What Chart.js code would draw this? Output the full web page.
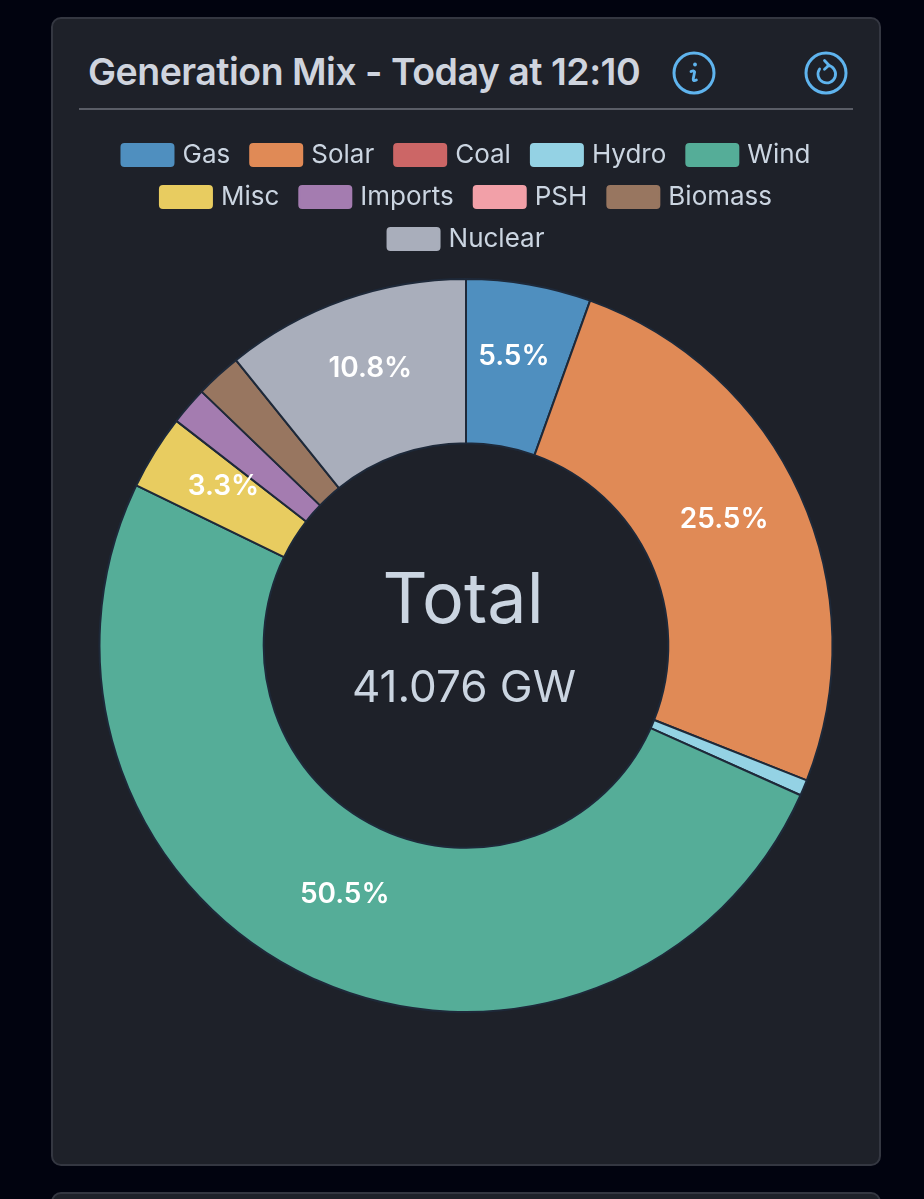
<!DOCTYPE html>
<html><head><meta charset="utf-8">
<style>
html,body{margin:0;padding:0;width:924px;height:1199px;overflow:hidden;background:#01030f;font-family:Inter,sans-serif}
.card{position:absolute;left:51px;width:830px;background:#1e2129;border:2px solid #343741;border-radius:10px;box-sizing:border-box}
#c1{top:17px;height:1149px}
#c2{top:1192px;height:40px}
#title{position:absolute;left:88px;top:47px;font:600 37.5px/50px Inter,sans-serif;color:#cfd4de;white-space:nowrap;letter-spacing:-.52px}
#rule{position:absolute;left:79px;top:108px;width:774px;height:2px;background:#5a5d66}
svg.ic{position:absolute;top:51px;width:44px;height:44px}
#wrap{position:absolute;left:76px;top:126px;width:780px;height:887px}
</style></head><body>
<div class="card" id="c1"></div><div class="card" id="c2"></div>
<div id="title">Generation Mix - Today at 12:10</div>
<div id="rule"></div>
<svg class="ic" style="left:672px" viewBox="0 0 44 44" fill="none" stroke="#5fb4ee" stroke-width="3"><circle cx="22" cy="22" r="20"/><path d="M19 20.5q3-1.5 3.6 0.5l-1.4 7q-.2 2.6 3.2 1" stroke-width="2.8" stroke-linecap="round"/><circle cx="23" cy="13.5" r="1.9" fill="#5fb4ee" stroke="none"/></svg>
<svg class="ic" style="left:804px" viewBox="0 0 44 44" fill="none" stroke="#5fb4ee" stroke-width="3"><circle cx="22" cy="22" r="20"/><path d="M24 14.4A8.8 8.8 0 1 1 15.6 18" stroke-width="2.8" stroke-linecap="round"/><path d="M20.5 9.5l4.5 4.8-4.5 4" stroke-width="2.8" stroke-linecap="round" stroke-linejoin="round"/></svg>
<div id="wrap"><canvas id="chart"></canvas></div>
<script src="https://cdn.jsdelivr.net/npm/chart.js@4/dist/chart.umd.min.js"></script>
<script>
const categories = ['Gas','Solar','Coal','Hydro','Wind','Misc','Imports','PSH','Biomass','Nuclear'];
const generationGW = [2.259,10.474,0,0.288,20.743,1.356,0.69,0,0.83,4.436];
const sliceColors = ['#4f8fbf','#e08a56','#cc6666','#94d2e4','#55ad98','#e8cc60','#a47cb0','#f2a0a8','#987660','#a9aebb'];
const centerTitle = 'Total';
const centerValue = '41.076 GW';
const total = generationGW.reduce((a,b)=>a+b,0);

const overlay = {
  id:'overlay',
  beforeUpdate(chart){
    const l = chart.legend;
    if(l._tweaked) return;
    l._tweaked = true;
    const fit = l.fit, draw = l.draw;
    l.fit = function(){ fit.call(this); this.height += 16; };
    l.draw = function(){
      const c = this.ctx, ft = c.fillText;
      c.save(); c.translate(2,0);
      c.fillText = function(t,x,y){ ft.call(c,t,x-4,y); };
      draw.call(this);
      delete c.fillText;
      c.restore();
    };
  },
  afterDatasetsDraw(chart){
    const {ctx} = chart, arcs = chart.getDatasetMeta(0).data;
    ctx.save();
    ctx.textAlign='center'; ctx.textBaseline='middle';
    arcs.forEach((arc,i)=>{
      const pct = generationGW[i]/total*100;
      if(pct<3) return;
      const p = arc.getCenterPoint();
      ctx.fillStyle='#ffffff'; ctx.font='600 28px Inter';
      ctx.fillText(pct.toFixed(1)+'%',p.x-1,p.y-8.5);
    });
    const a = arcs[0];
    ctx.fillStyle='#cbd5e1';
    ctx.font='400 70px Inter'; ctx.fillText(centerTitle,a.x-3,a.y-44);
    ctx.font='400 44px Inter'; ctx.fillText(centerValue,a.x-2,a.y+43);
    ctx.restore();
  }
};
new Chart(document.getElementById('chart'),{
  type:'doughnut',
  data:{labels:categories,datasets:[{data:generationGW,backgroundColor:sliceColors,borderColor:'#1e2939',borderWidth:2}]},
  plugins:[overlay],
  options:{
    responsive:true,maintainAspectRatio:false,animation:false,cutout:'55.2%',
    layout:{padding:0},
    plugins:{
      tooltip:{enabled:false},
      legend:{position:'top',labels:{
        color:'#cbd5e1',boxWidth:52,boxHeight:22,padding:16,useBorderRadius:true,borderRadius:3,font:{family:'Inter',size:26},
        generateLabels(chart){
          return Chart.overrides.doughnut.plugins.legend.labels.generateLabels(chart).map(it=>({...it,strokeStyle:it.fillStyle}));
        }
      }}
    }
  }
});
</script>
</body></html>
